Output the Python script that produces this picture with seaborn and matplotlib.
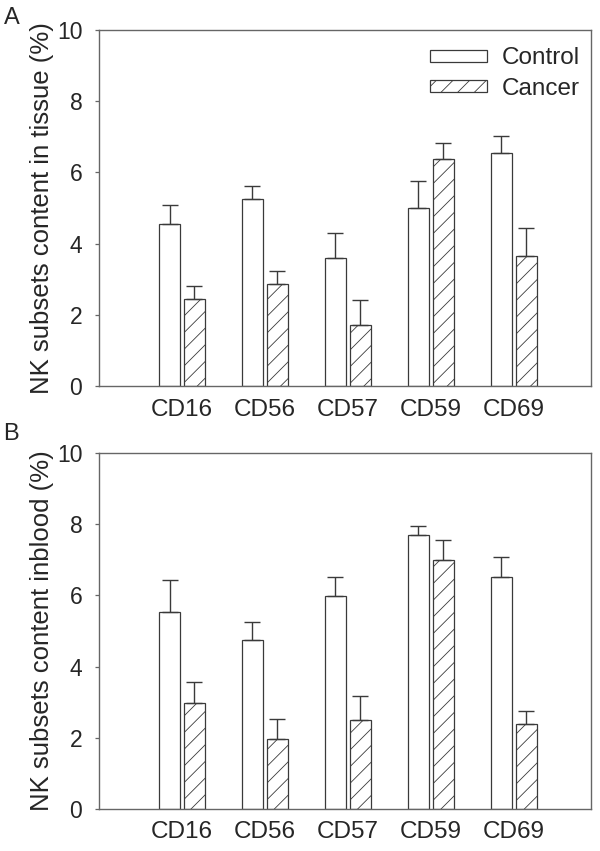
import numpy as np
import pandas as pd
import matplotlib
matplotlib.use("Agg")
import matplotlib.pyplot as plt
import seaborn as sns

markers = ["CD16", "CD56", "CD57", "CD59", "CD69"]
groups = ["Control", "Cancer"]

tissue_control = [4.55, 5.25, 3.60, 5.00, 6.55]
tissue_control_err = [0.53, 0.37, 0.69, 0.75, 0.47]
tissue_cancer = [2.45, 2.87, 1.70, 6.37, 3.65]
tissue_cancer_err = [0.36, 0.36, 0.73, 0.45, 0.78]

blood_control = [5.54, 4.76, 5.97, 7.70, 6.53]
blood_control_err = [0.89, 0.48, 0.56, 0.26, 0.56]
blood_cancer = [2.98, 1.97, 2.50, 6.98, 2.38]
blood_cancer_err = [0.59, 0.57, 0.66, 0.58, 0.38]

sns.set_style("ticks")
plt.rcParams["font.family"] = ["Liberation Sans", "DejaVu Sans"]
plt.rcParams["hatch.linewidth"] = 0.6

EDGE = "#3a3a3a"
SPINE = "#666666"


def make_df(ctrl, canc):
    return pd.DataFrame({
        "Marker": markers * 2,
        "Group": ["Control"] * len(markers) + ["Cancer"] * len(markers),
        "Value": list(ctrl) + list(canc),
    })


def draw_panel(ax, ctrl, ctrl_err, canc, canc_err, ylabel, show_legend):
    df = make_df(ctrl, canc)
    sns.barplot(data=df, x="Marker", y="Value", hue="Group", hue_order=groups,
                order=markers, palette={"Control": "white", "Cancer": "white"},
                edgecolor=EDGE, linewidth=0.9, width=0.6, gap=0.16,
                errorbar=None, legend=False, ax=ax)
    for p in ax.containers[1]:
        p.set_hatch("//")
    # upper-only error bars, drawn behind the bars
    for cont, err in zip(ax.containers, [ctrl_err, canc_err]):
        xs = [p.get_x() + p.get_width() / 2 for p in cont]
        ys = [p.get_height() for p in cont]
        ax.errorbar(xs, ys, yerr=[np.zeros(len(err)), err], fmt="none",
                    ecolor=EDGE, elinewidth=1.0, capsize=5.5, capthick=1.0, zorder=1)
    ax.set_xlim(-1.0, 4.93)
    ax.set_ylim(0, 10)
    ax.set_yticks(range(0, 11, 2))
    ax.set_xlabel("")
    ax.set_ylabel(ylabel, fontsize=18.5, labelpad=2)
    ax.tick_params(axis="x", length=0, pad=9, labelsize=17.5)
    ax.tick_params(axis="y", direction="out", length=3, width=0.9,
                   color=SPINE, labelsize=16.5, pad=9)
    for s in ax.spines.values():
        s.set_visible(True)
        s.set_color(SPINE)
        s.set_linewidth(1.0)
    if show_legend:
        ax.legend(ax.containers, groups, loc="upper right", frameon=False,
                  fontsize=17.5, handlelength=2.35, handleheight=0.37,
                  handletextpad=0.62, labelspacing=0.33, borderpad=0,
                  borderaxespad=0, bbox_to_anchor=(0.978, 0.951))


fig = plt.figure(figsize=(6, 8.51), dpi=100)
axA = fig.add_axes([0.165, 0.5464, 0.82, 0.4183])
axB = fig.add_axes([0.165, 0.0494, 0.82, 0.4183])

draw_panel(axA, tissue_control, tissue_control_err, tissue_cancer, tissue_cancer_err,
           "NK subsets content in tissue (%)", True)
draw_panel(axB, blood_control, blood_control_err, blood_cancer, blood_cancer_err,
           "NK subsets content inblood (%)", False)

fig.text(0.007, 0.992, "A", fontsize=17, va="top", ha="left")
fig.text(0.005, 0.503, "B", fontsize=17, va="top", ha="left")

fig.savefig("out.png", dpi=100)
